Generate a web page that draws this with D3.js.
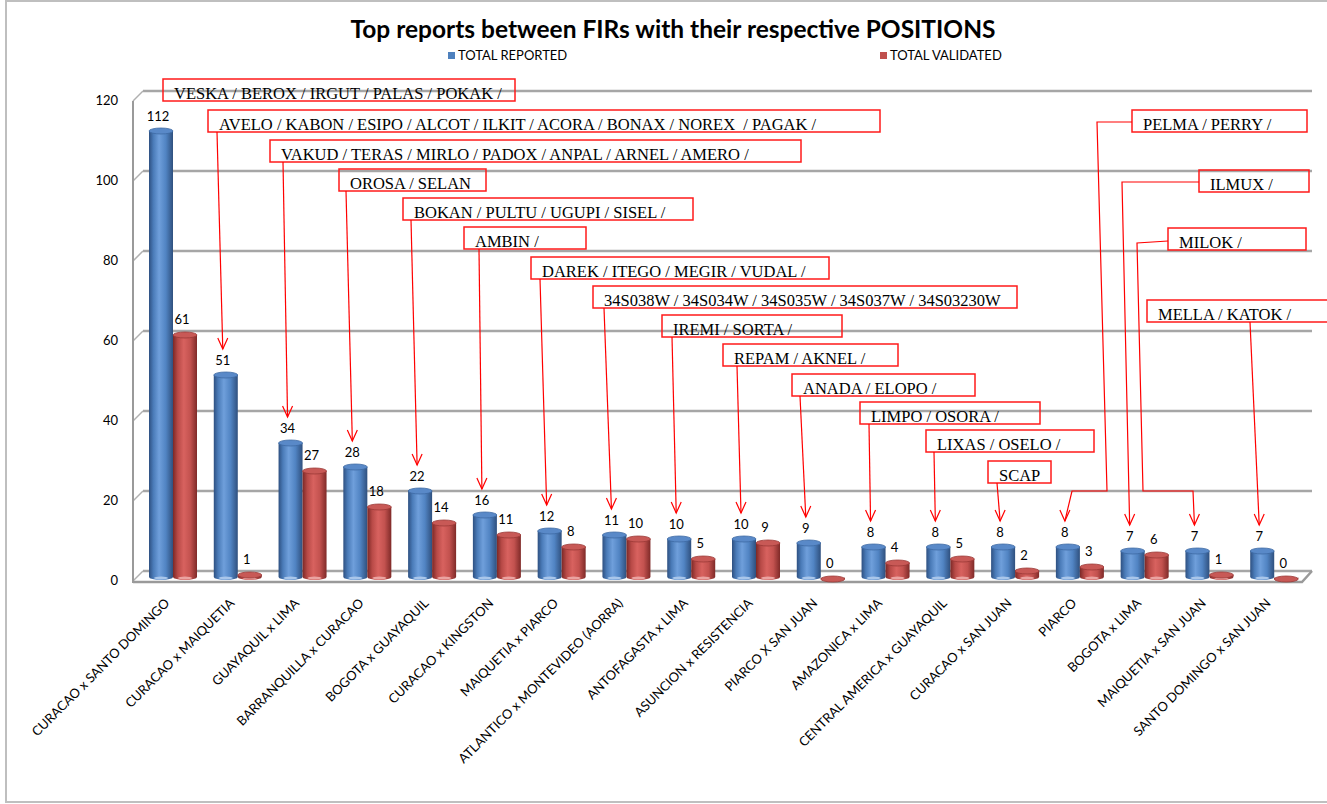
<!DOCTYPE html>
<html>
<head>
<meta charset="utf-8">
<script src="https://cdn.jsdelivr.net/npm/d3@7"></script>
<style>
  body { margin: 0; background: #fff; }
  text { font-family: Lato, "Open Sans", sans-serif; }
</style>
</head>
<body>
<div id="chart"></div>
<script>
// ---- data ----
var categories = ["CURACAO x SANTO DOMINGO", "CURACAO x MAIQUETIA", "GUAYAQUIL x LIMA",
  "BARRANQUILLA x CURACAO", "BOGOTA x GUAYAQUIL", "CURACAO x KINGSTON", "MAIQUETIA x PIARCO",
  "ATLANTICO x MONTEVIDEO (AORRA)", "ANTOFAGASTA x LIMA", "ASUNCION x RESISTENCIA",
  "PIARCO X SAN JUAN", "AMAZONICA x LIMA", "CENTRAL AMERICA x GUAYAQUIL", "CURACAO x SAN JUAN",
  "PIARCO", "BOGOTA x LIMA", "MAIQUETIA x SAN JUAN", "SANTO DOMINGO x SAN JUAN"];
var totalReported = [112, 51, 34, 28, 22, 16, 12, 11, 10, 10, 9, 8, 8, 8, 8, 7, 7, 7];
var totalValidated = [61, 1, 27, 18, 14, 11, 8, 10, 5, 9, 0, 4, 5, 2, 3, 6, 1, 0];
var yTicks = [0, 20, 40, 60, 80, 100, 120];
var positions = ["VESKA / BEROX / IRGUT / PALAS / POKAK /",
  "AVELO / KABON / ESIPO / ALCOT / ILKIT / ACORA / BONAX / NOREX  / PAGAK /",
  "VAKUD / TERAS / MIRLO / PADOX / ANPAL / ARNEL / AMERO /",
  "OROSA / SELAN",
  "BOKAN / PULTU / UGUPI / SISEL /",
  "AMBIN /",
  "DAREK / ITEGO / MEGIR / VUDAL /",
  "34S038W / 34S034W / 34S035W / 34S037W / 34S03230W",
  "IREMI / SORTA /",
  "REPAM / AKNEL /",
  "ANADA / ELOPO /",
  "LIMPO / OSORA /",
  "LIXAS / OSELO /",
  "SCAP",
  "PELMA / PERRY /",
  "ILMUX /",
  "MILOK /",
  "MELLA / KATOK /"];
var seriesNames = ["TOTAL REPORTED", "TOTAL VALIDATED"];

// ---- layout of the callout boxes (pixels), leader goes to the blue bar of the same index ----
var boxLayout = [
  {x: 163, y: 79, w: 352, lead: null},
  {x: 208, y: 110, w: 672, lx: 9},
  {x: 270, y: 140, w: 531, lx: 13},
  {x: 339, y: 169, w: 147, lx: 7},
  {x: 403, y: 198, w: 290, lx: 8},
  {x: 464, y: 227, w: 122, lx: 15},
  {x: 531, y: 257, w: 298, lx: 9},
  {x: 593, y: 286, w: 424, lx: 11},
  {x: 662, y: 315, w: 180, lx: 10},
  {x: 723, y: 344, w: 175, lx: 14},
  {x: 792, y: 374, w: 183, lx: 8},
  {x: 860, y: 402, w: 180, lx: 9},
  {x: 926, y: 430, w: 168, lx: 8},
  {x: 988, y: 461, w: 63, lx: 9},
  {x: 1132, y: 110, w: 175, lead: [[1132, 122], [1097, 122], [1107, 491], [1072, 491]]},
  {x: 1199, y: 170, w: 110, lead: [[1199, 182], [1122, 182]]},
  {x: 1168, y: 228, w: 138, lead: [[1168, 241], [1137, 243], [1143, 491], [1193, 491]]},
  {x: 1147, y: 300, w: 190, lx: 103}
];

var fullWidth = 1327, fullHeight = 804;
var floorY = 577, rise = 6;

var svg = d3.select("#chart").append("svg")
  .attr("width", fullWidth)
  .attr("height", fullHeight);

// chart frame
svg.append("rect").attr("x", 6).attr("y", 1).attr("width", 1340).attr("height", 801)
  .attr("fill", "#fff").attr("stroke", "#bfbfbf").attr("stroke-width", 2);

var xScale = d3.scaleBand().domain(categories).range([140, 1306]);
var yScale = d3.scaleLinear().domain([0, 120]).range([floorY, floorY - 480]);
var bw = 24;

// gradients for cylinders
var defs = svg.append("defs");
function cylGrad(id, stops) {
  var g = defs.append("linearGradient").attr("id", id).attr("x1", "0%").attr("x2", "100%");
  stops.forEach(function(s) { g.append("stop").attr("offset", s[0]).attr("stop-color", s[1]); });
}
cylGrad("gBlue", [["0%", "#2e5081"], ["18%", "#4a7bb8"], ["42%", "#6f9fdb"], ["70%", "#5184c3"], ["100%", "#2f507e"]]);
cylGrad("gRed", [["0%", "#7b2826"], ["20%", "#b84a47"], ["45%", "#d8625f"], ["72%", "#c3524f"], ["100%", "#7f2a28"]]);

// ---- walls / floor / gridlines ----
var grid = svg.append("g");
yTicks.forEach(function(t) {
  var yy = yScale(t);
  grid.append("line").attr("x1", 143).attr("x2", 1312)
    .attr("y1", yy - rise).attr("y2", yy - rise)
    .attr("stroke", "#a6a6a6").attr("stroke-width", 2.5);
  grid.append("line").attr("x1", 133).attr("x2", 143)
    .attr("y1", yy + 4).attr("y2", yy - rise)
    .attr("stroke", "#b0b0b0").attr("stroke-width", 1.5);
  grid.append("text").attr("x", 118).attr("y", yy + 8)
    .attr("text-anchor", "end").style("font-size", "13px").attr("fill", "#000")
    .text(t);
});
// left wall edge and floor front edge
grid.append("line").attr("x1", 133).attr("x2", 133).attr("y1", yScale(120) + 4).attr("y2", floorY + 6)
  .attr("stroke", "#9a9a9a").attr("stroke-width", 2);
grid.append("path")
  .attr("d", "M133," + (floorY + 5) + "L1302," + (floorY + 5) + "L1312," + (floorY - rise))
  .attr("fill", "none").attr("stroke", "#9a9a9a").attr("stroke-width", 2.5);

// ---- cylinders ----
function drawCyl(g, cx, v, grad, topFill, topStroke, baseFill) {
  var yt = yScale(v) + 2, rx = bw / 2, ry = 3;
  g.append("path")
    .attr("d", "M" + (cx - rx) + "," + yt + "L" + (cx - rx) + "," + floorY +
      "A" + rx + "," + ry + " 0 0 0 " + (cx + rx) + "," + floorY + "L" + (cx + rx) + "," + yt + "Z")
    .attr("fill", "url(#" + grad + ")");
  g.append("ellipse").attr("cx", cx).attr("cy", floorY + 1).attr("rx", 7).attr("ry", 1.5)
    .attr("fill", baseFill);
  g.append("ellipse").attr("cx", cx).attr("cy", yt).attr("rx", rx).attr("ry", ry)
    .attr("fill", topFill).attr("stroke", topStroke).attr("stroke-width", 0.8);
}

var bars = svg.append("g");
categories.forEach(function(c, i) {
  var bx = xScale(c) + 9 + bw / 2;
  var rxc = xScale(c) + 33 + bw / 2;
  drawCyl(bars, bx, totalReported[i], "gBlue", "#5989c8", "#3d6aa3", "#a9c6ea");
  drawCyl(bars, rxc, totalValidated[i], "gRed", "#c85956", "#9a3936", "#eaa3a1");
  bars.append("text").attr("x", bx - 3).attr("y", yScale(totalReported[i]) - 8)
    .attr("text-anchor", "middle").style("font-size", "13px").text(totalReported[i]);
  bars.append("text").attr("x", rxc - 3).attr("y", yScale(totalValidated[i]) - 9)
    .attr("text-anchor", "middle").style("font-size", "13px").text(totalValidated[i]);
});

// ---- category labels ----
svg.append("g").selectAll("text").data(categories).enter().append("text")
  .attr("text-anchor", "end")
  .style("font-size", "13px")
  .attr("transform", function(d) {
    return "translate(" + (xScale(d) + xScale.bandwidth() / 2 - 2) + "," + 604 + ") rotate(-45)";
  })
  .text(function(d) { return d; });

// ---- title and legend ----
svg.append("text").attr("x", 673).attr("y", 38).attr("text-anchor", "middle")
  .style("font-size", "24.5px").style("font-weight", "bold").text("Top reports between FIRs with their respective POSITIONS");
var legendX = [448, 880], legendCol = ["#4f81bd", "#c0504d"];
seriesNames.forEach(function(s, i) {
  svg.append("rect").attr("x", legendX[i]).attr("y", 52).attr("width", 7).attr("height", 7).attr("fill", legendCol[i]);
  svg.append("text").attr("x", legendX[i] + 10).attr("y", 60).style("font-size", "13px").text(s);
});

// ---- callouts ----
var ann = svg.append("g");
var marker = function(tx, ty) {
  ann.append("path").attr("d", "M" + (tx - 5) + "," + (ty - 11) + "L" + tx + "," + ty + "L" + (tx + 5) + "," + (ty - 11))
    .attr("fill", "none").attr("stroke", "#ff0000").attr("stroke-width", 1.2);
};
boxLayout.forEach(function(b, i) {
  var h = 22;
  ann.append("clipPath").attr("id", "clip" + i).append("rect")
    .attr("x", b.x).attr("y", b.y).attr("width", b.w).attr("height", h);
  ann.append("text").attr("x", b.x + 11).attr("y", b.y + 20)
    .attr("clip-path", "url(#clip" + i + ")")
    .attr("xml:space", "preserve")
    .style("font-family", "'Liberation Serif', 'Times New Roman', serif")
    .style("font-size", "16.5px").attr("fill", "#000")
    .text(positions[i]);
  ann.append("rect").attr("x", b.x).attr("y", b.y).attr("width", b.w).attr("height", h)
    .attr("fill", "none").attr("stroke", "#ff1a1a").attr("stroke-width", 1.5);

  if (i == 0) return; // no leader on the first one
  var tx = xScale(categories[i]) + 9 + bw / 2 - 3;
  var ty = yScale(totalReported[i]) - 24;
  var pts = b.lead ? b.lead.slice() : [[b.x + b.lx, b.y + h]];
  pts.push([tx, ty]);
  ann.append("path").attr("d", d3.line()(pts))
    .attr("fill", "none").attr("stroke", "#ff0000").attr("stroke-width", 1.2);
  marker(tx, ty);
});
</script>
</body>
</html>
